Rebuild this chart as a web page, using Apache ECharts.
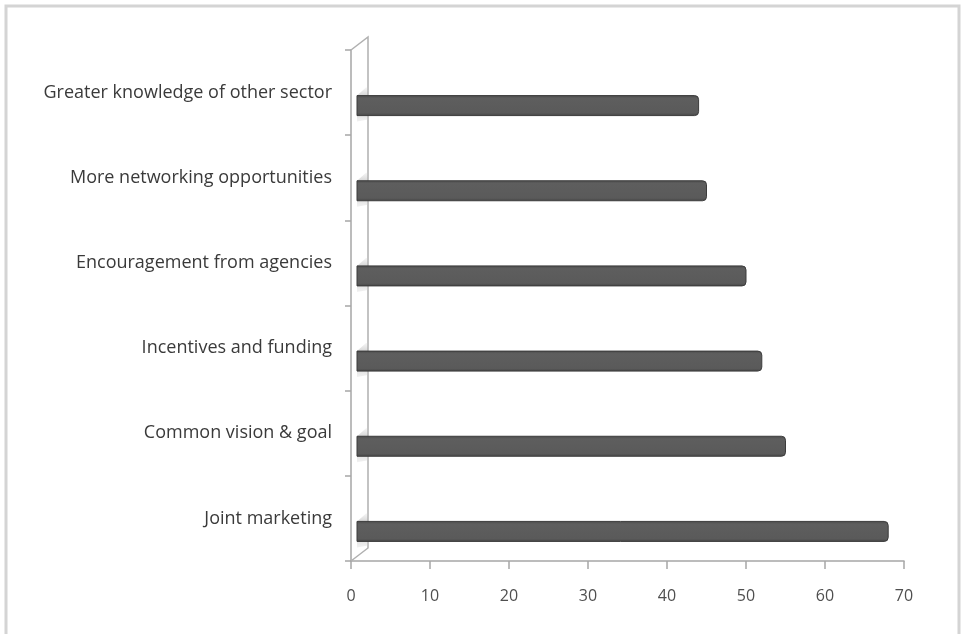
<!DOCTYPE html>
<html>
<head>
<meta charset="utf-8">
<script src="https://cdn.jsdelivr.net/npm/echarts@6/dist/echarts.min.js"></script>
<style>
html,body{margin:0;padding:0;background:#fff;}
#c{width:962px;height:634px;}
</style>
</head>
<body>
<div id="c"></div>
<script>
const categories = [
  "Joint marketing",
  "Common vision & goal",
  "Incentives and funding",
  "Encouragement from agencies",
  "More networking opportunities",
  "Greater knowledge of other sector"
];
const values = [68, 55, 52, 50, 45, 44];
const xTicks = [0, 10, 20, 30, 40, 50, 60, 70];

const chart = echarts.init(document.getElementById('c'), null, {renderer: 'canvas'});

const GL = 351, GT = 50, GR = 904, GB = 561;
const DX = 17, DY = 13;

const option = {
  animation: false,
  backgroundColor: '#ffffff',
  grid: {left: GL, top: GT, right: 962 - GR, bottom: 634 - GB, containLabel: false},
  xAxis: {
    type: 'value',
    min: xTicks[0],
    max: xTicks[xTicks.length - 1],
    interval: 10,
    splitLine: {show: false},
    axisLine: {show: true, lineStyle: {color: '#a6a6a6', width: 1.5}},
    axisTick: {show: true, inside: false, length: 8, lineStyle: {color: '#a6a6a6', width: 1.5}},
    axisLabel: {color: '#4f4f4f', fontSize: 16, fontFamily: 'Open Sans', margin: 27}
  },
  yAxis: {
    type: 'category',
    data: categories,
    boundaryGap: true,
    axisLine: {show: true, lineStyle: {color: '#a6a6a6', width: 1.5}},
    axisTick: {show: true, inside: false, length: 6, lineStyle: {color: '#a6a6a6', width: 1.5}},
    axisLabel: {color: '#3a3a3a', fontSize: 18, fontFamily: 'Open Sans', margin: 19}
  },
  graphic: [
    {type: 'rect', shape: {x: 6, y: 6, width: 953, height: 640}, style: {fill: 'none', stroke: '#d4d4d4', lineWidth: 3}, silent: true},
    {type: 'polyline', shape: {points: [[GL, GT], [GL + DX, GT - DY], [GL + DX, GB - DY], [GL, GB]]}, style: {fill: 'none', stroke: '#b0b0b0', lineWidth: 1.5}, silent: true, z: 1}
  ],
  series: [{
    type: 'custom',
    data: values.map((v, i) => [v, i]),
    encode: {x: 0, y: 1},
    z: 5,
    renderItem: function (params, api) {
      const v = api.value(0);
      const c = api.value(1);
      const p0 = api.coord([0, c]);
      const p1 = api.coord([v, c]);
      const cy = p0[1] + 13;
      const h = 20;
      const x0 = p0[0] + 6;
      return {
        type: 'group',
        children: [
          {
            type: 'polygon',
            shape: {points: [[x0, cy - h / 2], [x0 + 9, cy - h / 2 - 8], [x0 + 11, cy - h / 2 - 8], [x0 + 11, cy + h / 2 + 4], [x0, cy + h / 2 + 6]]},
            style: {fill: new echarts.graphic.LinearGradient(0, 0, 0, 1, [{offset: 0, color: 'rgba(200,200,200,0.2)'}, {offset: 0.4, color: 'rgba(150,150,150,0.7)'}, {offset: 1, color: 'rgba(210,210,210,0.3)'}])}
          },
          {
            type: 'rect',
            shape: {x: x0, y: cy - h / 2, width: p1[0] - x0, height: h, r: [0, 4, 4, 0]},
            style: {
              fill: new echarts.graphic.LinearGradient(0, 0, 0, 1, [
                {offset: 0, color: '#4a4a4a'},
                {offset: 0.15, color: '#5e5e5e'},
                {offset: 0.85, color: '#5a5a5a'},
                {offset: 1, color: '#444444'}
              ]),
              stroke: '#3c3c3c',
              lineWidth: 1
            }
          }
        ]
      };
    }
  }]
};
chart.setOption(option);
</script>
</body>
</html>
